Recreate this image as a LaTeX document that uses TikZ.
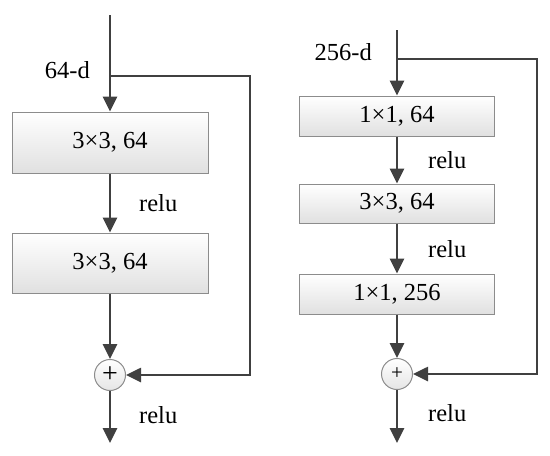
\documentclass[tikz,border=0pt]{standalone}
\usepackage{fontspec}
\setmainfont{Liberation Serif}
\usetikzlibrary{arrows.meta}
\definecolor{ln}{HTML}{404040}
\definecolor{bd}{HTML}{8C8C8C}
\begin{document}
\begin{tikzpicture}[x=1pt,y=-1pt,
  conv/.style={draw=bd, line width=1pt, top color=white, bottom color=black!12, inner sep=0pt, font=\fontsize{24.5}{28}\selectfont},
  flow/.style={draw=ln, line width=2.6pt, -{Triangle[length=15pt,width=14pt]}},
  lbl/.style={font=\fontsize{24.5}{28}\selectfont, inner sep=0pt},
  sum/.style={circle, draw=bd, line width=1pt, top color=white, bottom color=black!10, minimum size=31pt, inner sep=0pt}]
\useasboundingbox (0,0) rectangle (550,456);
% left block
\node[conv, minimum width=196pt, minimum height=61pt] (a1) at (110,142.5) {3×3, 64};
\node[conv, minimum width=196pt, minimum height=60pt] (a2) at (110,263) {3×3, 64};
\node[sum] (as) at (110,375) {\fontsize{28}{28}\selectfont +};
\coordinate (ain) at (110,15);
\coordinate (asplit) at (110,76);
\coordinate (ac1) at (250,76);
\coordinate (ac2) at (250,375);
\coordinate (aout) at (110,443);
\draw[flow] (ain) -- (a1);
\draw[flow] (a1) -- (a2);
\draw[flow] (a2) -- (as);
\draw[flow] (as) -- (aout);
\draw[flow] (asplit) -- (ac1) -- (ac2) -- (as);
\node[lbl, anchor=base east] (l64) at (90,78) {64-d};
\node[lbl, anchor=base west] (ra1) at (139,211) {relu};
\node[lbl, anchor=base west] (ra2) at (139,423) {relu};
% right block
\node[conv, minimum width=195pt, minimum height=40pt] (b1) at (397,116) {1×1, 64};
\node[conv, minimum width=195pt, minimum height=39pt] (b2) at (397,203.5) {3×3, 64};
\node[conv, minimum width=195pt, minimum height=40pt] (b3) at (397,294) {1×1, 256};
\node[sum] (bs) at (397,374) {\fontsize{21}{21}\selectfont +};
\coordinate (bin) at (397,30);
\coordinate (bsplit) at (397,59);
\coordinate (bc1) at (537,59);
\coordinate (bc2) at (537,374);
\coordinate (bout) at (397,443);
\draw[flow] (bin) -- (b1);
\draw[flow] (b1) -- (b2);
\draw[flow] (b2) -- (b3);
\draw[flow] (b3) -- (bs);
\draw[flow] (bs) -- (bout);
\draw[flow] (bsplit) -- (bc1) -- (bc2) -- (bs);
\node[lbl, anchor=base east] (l256) at (372,60) {256-d};
\node[lbl, anchor=base west] (rb1) at (428,168) {relu};
\node[lbl, anchor=base west] (rb2) at (428,257) {relu};
\node[lbl, anchor=base west] (rb3) at (428,421) {relu};
\end{tikzpicture}
\end{document}
